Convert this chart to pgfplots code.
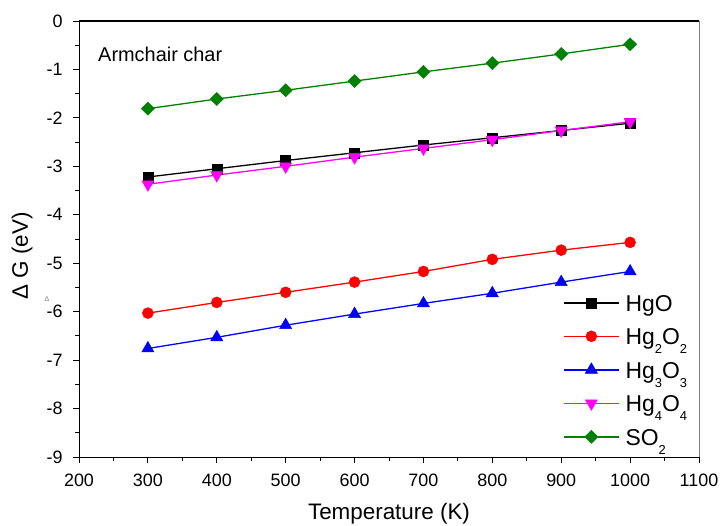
\documentclass[border=0pt]{standalone}
\usepackage{pgfplots}
\pgfplotsset{compat=1.18}
\usepackage{fontspec}
\setmainfont{Liberation Sans}
\definecolor{sogreen}{RGB}{0,128,0}
\definecolor{hgmag}{RGB}{255,0,255}
\newcommand{\sub}[1]{\raisebox{-9bp}{\fontsize{13}{13}\selectfont #1}}
\begin{document}
\begin{tikzpicture}
\useasboundingbox (-79bp,-69bp) rectangle (644bp,457bp);
\begin{axis}[
  at={(0,0)}, anchor=south west,
  scale only axis, width=620bp, height=436bp,
  xmin=200, xmax=1100, ymin=-9, ymax=0,
  xtick={200,300,...,1100}, ytick={-9,-8,...,0},
  minor x tick num=1, minor y tick num=1,
  tick align=outside, tickpos=left,
  major tick length=6bp, minor tick length=4bp,
  tick style={black, line width=0.8pt},
  axis line style={line width=1pt},
  /pgf/number format/assume math mode=true,
  /pgf/number format/1000 sep={},
  tick label style={font=\fontsize{18}{21}\selectfont},
  xticklabel style={yshift=-7bp},
  yticklabel style={xshift=-7bp},
  xlabel={Temperature (K)}, ylabel={Δ G (eV)},
  label style={font=\fontsize{22.5}{26}\selectfont},
  xlabel style={at={(axis description cs:0.5,-0.1307)}, anchor=center},
  ylabel style={at={(axis description cs:-0.0919,0.461)}, anchor=center},
  legend style={draw=none, fill=none, inner sep=0pt,
    at={(axis description cs:0.7806,0.0016)}, anchor=south west,
    font=\fontsize{23}{26}\selectfont, row sep=4.5bp,
    nodes={inner sep=1bp, text height=17bp, text depth=10bp}, cells={anchor=base west}},
  legend image code/.code={\draw[#1, line width=1.4pt, mark=none] (0bp,8.3bp) -- (55bp,8.3bp); \draw[#1] plot[only marks] coordinates {(27.5bp,8.3bp)}; \path (60bp,8.3bp);},
  every axis plot/.append style={line width=1.3pt},
]
\addplot[black, mark=square*, mark size=5bp, mark options={line width=0.5pt}] coordinates {
(300,-3.22) (400,-3.05) (500,-2.88) (600,-2.72) (700,-2.56) (800,-2.41) (900,-2.26) (1000,-2.11)};
\addlegendentry{HgO}
\addplot[red, mark=*, mark size=5.5bp, mark options={line width=0.5pt}] coordinates {
(300,-6.03) (400,-5.81) (500,-5.60) (600,-5.39) (700,-5.17) (800,-4.92) (900,-4.73) (1000,-4.57)};
\addlegendentry{Hg\sub{2}O\sub{2}}
\addplot[blue, mark=triangle*, mark size=7bp, mark options={line width=0.5pt}] coordinates {
(300,-6.76) (400,-6.53) (500,-6.28) (600,-6.05) (700,-5.83) (800,-5.62) (900,-5.39) (1000,-5.17)};
\addlegendentry{Hg\sub{3}O\sub{3}}
\addplot[hgmag, mark=triangle*, mark size=7bp, mark options={rotate=180, line width=0.5pt}] coordinates {
(300,-3.37) (400,-3.18) (500,-3.00) (600,-2.81) (700,-2.63) (800,-2.45) (900,-2.26) (1000,-2.08)};
\addlegendentry{Hg\sub{4}O\sub{4}}
\addplot[sogreen, mark=diamond*, mark size=6.5bp, mark options={xscale=1.35, line width=0.5pt}] coordinates {
(300,-1.81) (400,-1.61) (500,-1.43) (600,-1.24) (700,-1.05) (800,-0.87) (900,-0.68) (1000,-0.48)};
\addlegendentry{SO\sub{2}}
\node[anchor=west, inner sep=0pt, font=\fontsize{20}{24}\selectfont] at (axis cs:227.6,-0.69) {Armchair char};
\end{axis}
\draw[gray, line width=1pt] (620bp,0) -- (620bp,436bp);
\draw[black, line width=1pt] (0,436bp) -- (620bp,436bp);
\node[gray, font=\fontsize{7}{8}\selectfont] at (-32bp,158bp) {Δ};
\end{tikzpicture}
\end{document}
